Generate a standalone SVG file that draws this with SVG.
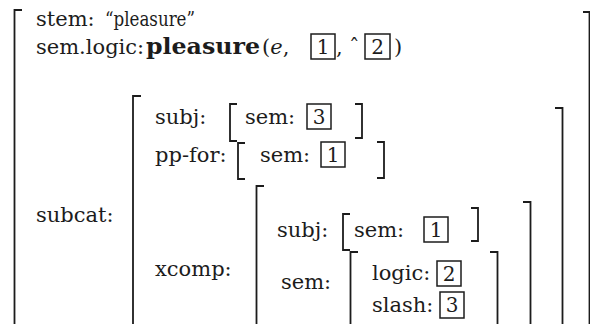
<svg xmlns="http://www.w3.org/2000/svg" width="590" height="324" viewBox="0 0 590 324">
<style>
.t{font-family:"DejaVu Serif","Liberation Serif",serif;font-size:21px;fill:#1c1c1c}
.b{font-weight:bold;font-size:22px}
.i{font-style:italic}
.br{fill:none;stroke:#1c1c1c;stroke-width:1.8}
.bx{fill:none;stroke:#1c1c1c;stroke-width:1.5}
.n{text-anchor:middle;font-size:20px}
</style>
<rect width="590" height="324" fill="#fff"/>
<g id="outer">
<path class="br" d="M22,10 H14.5 V330"/>
<path class="br" d="M583,12 H589.5 V330"/>
<text class="t" x="36" y="26">stem:</text>
<text class="t" x="105" y="26" style="font-size:20px" textLength="90" lengthAdjust="spacingAndGlyphs">“pleasure”</text>
<text class="t" x="36" y="54">sem.logic:</text>
<text class="t b" x="146" y="54" textLength="114" lengthAdjust="spacingAndGlyphs">pleasure</text>
<text class="t" x="262" y="54">(<tspan class="i">e</tspan>,</text>
<rect class="bx" x="311" y="34" width="24" height="25"/>
<text class="t n" x="323" y="54">1</text>
<text class="t" x="336" y="54">,</text>
<text class="t" x="349" y="54">ˆ</text>
<rect class="bx" x="365" y="34" width="25" height="25"/>
<text class="t n" x="377.5" y="54">2</text>
<text class="t" x="394" y="54">)</text>
<text class="t" x="36" y="222">subcat:</text>
</g>
<g id="subcat">
<path class="br" d="M141,96 H133 V330"/>
<path class="br" d="M555,108 H562.5 V330"/>
<text class="t" x="155" y="124">subj:</text>
<path class="br" d="M237,104 H230 V141 H237"/>
<text class="t" x="245" y="124">sem:</text>
<rect class="bx" x="307" y="104" width="24" height="25"/>
<text class="t n" x="319" y="124">3</text>
<path class="br" d="M355,104 H362 V138 H355"/>
<text class="t" x="155" y="162">pp-for:</text>
<path class="br" d="M245,143 H238 V179 H245"/>
<text class="t" x="260" y="162">sem:</text>
<rect class="bx" x="321" y="142" width="24" height="25"/>
<text class="t n" x="333" y="162">1</text>
<path class="br" d="M377,142 H384 V178 H377"/>
<text class="t" x="155" y="276">xcomp:</text>
</g>
<g id="xcomp">
<path class="br" d="M264,186 H256.5 V330"/>
<path class="br" d="M523,202 H530.5 V330"/>
<text class="t" x="277" y="237">subj:</text>
<path class="br" d="M350,214 H343 V250 H350"/>
<text class="t" x="354" y="237">sem:</text>
<rect class="bx" x="424" y="217" width="24" height="25"/>
<text class="t n" x="436" y="237">1</text>
<path class="br" d="M471,208 H478 V241 H471"/>
<text class="t" x="281" y="289">sem:</text>
</g>
<g id="sem">
<path class="br" d="M358,252 H350.5 V330"/>
<path class="br" d="M490,252 H497.5 V330"/>
<text class="t" x="372" y="280">logic:</text>
<rect class="bx" x="437" y="261" width="24" height="25"/>
<text class="t n" x="449" y="281">2</text>
<text class="t" x="372" y="312">slash:</text>
<rect class="bx" x="440" y="292" width="24" height="26"/>
<text class="t n" x="452" y="312">3</text>
</g>
</svg>
